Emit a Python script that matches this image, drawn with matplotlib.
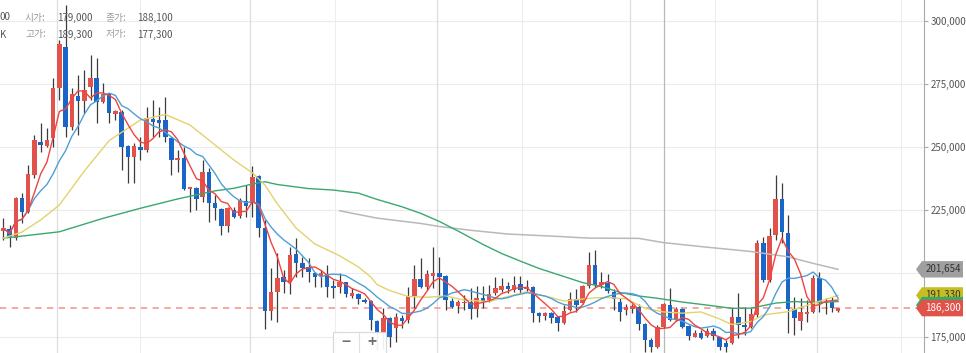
import numpy as np
import pandas as pd
import matplotlib
matplotlib.use("Agg")
import matplotlib.pyplot as plt
from matplotlib.patches import Polygon, Rectangle
from matplotlib import transforms

plt.rcParams['font.family'] = ['Noto Sans CJK KR', 'DejaVu Sans']

# daily candles (won), oldest first
opens = [216900, 217500, 213900, 229700, 224400, 239000, 252100, 250400, 253500, 273300,
         289700, 257800, 270200, 268400, 273900, 277200, 268000, 271000, 263100, 264000,
         250400, 246000, 249900, 248900, 261000, 260700, 260700, 253500, 244800, 245800,
         233300, 233700, 230100, 240300, 227800, 225400, 218900, 225100, 222700, 228800,
         228000, 238600, 217900, 185300, 192800, 198700, 196500, 207700, 204300, 202700,
         200100, 199000, 199800, 195100, 194500, 196500, 191200, 191900, 189500, 189200,
         181300, 176100, 182300, 178300, 182300, 181600, 191100, 197700, 194500, 199000,
         200300, 199000, 189200, 187100, 188200, 188800, 185800, 190200, 189500, 192200,
         193500, 195100, 193500, 195800, 193700, 194500, 184500, 183200, 184500, 182700,
         180300, 185600, 189800, 188200, 195100, 203400, 195400, 196400, 192800, 188800,
         185600, 185800, 186600, 180000, 173700, 170800, 179000, 187500, 181600, 185800,
         179200, 175000, 176300, 175300, 177400, 174800, 172600, 172600, 182700, 179600,
         179000, 183600, 211900, 197400, 215200, 229300, 216100, 185800, 181300, 184000,
         184900, 198100, 188200, 188800, 185200]
highs = [221900, 219200, 230400, 231700, 242900, 254800, 259400, 257400, 277200, 292400,
         306200, 273300, 278500, 280500, 286400, 285100, 275400, 271400, 264700, 264700,
         250800, 251600, 254100, 266000, 268600, 266000, 269900, 254100, 248900, 250200,
         234300, 234300, 244900, 241600, 231100, 225800, 226400, 226400, 229700, 235000,
         242500, 239000, 221200, 202100, 208000, 201400, 210600, 213900, 206600, 206000,
         200700, 201400, 203400, 197400, 200100, 196800, 194100, 192400, 190200, 189500,
         181600, 186200, 182900, 184300, 183600, 194800, 203400, 206300, 201400, 210600,
         206600, 199400, 190200, 189500, 191500, 194100, 195100, 195100, 195400, 198500,
         198100, 196800, 199000, 199000, 197400, 195100, 184900, 184900, 184900, 183200,
         187500, 192800, 193700, 195400, 208600, 209300, 200700, 199800, 193700, 190200,
         187900, 187900, 187900, 180300, 174400, 179600, 188200, 194100, 186900, 186200,
         179600, 177600, 177600, 178300, 178300, 175000, 173700, 186200, 192400, 186900,
         186200, 213200, 214600, 217900, 239000, 235900, 223100, 190600, 190200, 189500,
         199400, 200700, 190200, 190600, 186500]
lows = [213200, 210600, 213200, 219900, 223800, 237700, 248200, 250200, 250200, 268600,
        254100, 256800, 254800, 263500, 268600, 259400, 267400, 259400, 260700, 240900,
        235700, 235700, 244900, 248200, 254100, 254100, 252100, 239000, 240300, 233000,
        224400, 225100, 228400, 220500, 221200, 215200, 216500, 221800, 221800, 222500,
        222500, 214300, 177900, 181600, 180900, 192200, 191900, 198700, 198700, 196800,
        194500, 194800, 190800, 190200, 192200, 190800, 190200, 187900, 188400, 177600,
        169700, 170000, 171000, 173000, 178300, 180300, 186200, 194300, 193500, 194100,
        191500, 185600, 186200, 184300, 185600, 181900, 182700, 186200, 188800, 191500,
        192800, 192200, 192800, 192400, 192800, 180900, 180900, 181600, 180500, 177400,
        180000, 185300, 184900, 187900, 194100, 194800, 194100, 192200, 185600, 181300,
        183600, 184300, 177600, 169100, 169100, 170400, 178300, 181300, 181300, 178300,
        173700, 174800, 174000, 174800, 173700, 169700, 169100, 172100, 174400, 175700,
        178300, 182900, 196800, 196800, 213200, 211900, 176600, 175700, 177600, 180900,
        184300, 184900, 184000, 184900, 184900]
closes = [217900, 213900, 229700, 224400, 239400, 252800, 250800, 252800, 273300, 290800,
          257800, 271000, 268400, 272600, 277200, 268000, 271000, 263400, 264400, 250200,
          246000, 250400, 248900, 261400, 260000, 259700, 254100, 244900, 245800, 233300,
          234100, 229500, 240300, 227800, 225800, 218900, 225800, 222500, 229100, 226700,
          238300, 218100, 185300, 192800, 198100, 196800, 207300, 204300, 202300, 200700,
          198500, 200300, 194500, 194400, 196800, 191900, 192400, 189900, 188800, 181600,
          176300, 182300, 175000, 182700, 181300, 191100, 197700, 194800, 199800, 200300,
          198700, 189500, 186600, 188800, 188800, 185800, 190200, 189200, 191800, 194100,
          195100, 194000, 195400, 193500, 194500, 184300, 183200, 184500, 182300, 180300,
          185300, 189800, 187500, 195100, 203400, 195400, 196800, 193200, 189800, 184900,
          186600, 187100, 180000, 173700, 171000, 179000, 187900, 181600, 185800, 178700,
          175300, 176600, 174400, 177400, 175300, 170800, 170800, 182900, 179600, 179000,
          184000, 211900, 197400, 214800, 229300, 216500, 185800, 182300, 184900, 184900,
          198100, 188200, 188800, 186200, 186300]

# longer averages (candle index, value)
ma20_idx = [0, 3, 6, 9, 13, 17, 22, 26, 30, 34, 37, 40, 42, 44, 47, 50, 54, 57, 59, 60,
            62, 65, 68, 71, 74, 78, 81, 84, 87, 90, 93, 95, 97, 100, 103, 106, 109, 112,
            115, 117, 120, 122, 126, 130, 134]
ma20_val = [214000, 216400, 221200, 227100, 240500, 252600, 260700, 262900, 258700, 250800,
            244900, 239800, 235000, 227500, 218000, 211700, 207000, 202600, 198600, 195600,
            193300, 190900, 190600, 191100, 189500, 188900, 190900, 192700, 191100, 189100,
            189900, 190400, 190500, 190000, 186200, 184800, 184300, 184800, 182000, 179800,
            181000, 183600, 184900, 188200, 191330]
ma60_idx = [0, 3, 9, 16, 22, 28, 34, 37, 40, 42, 44, 49, 53, 57, 60, 64, 67, 70, 73, 77,
            80, 83, 86, 89, 93, 96, 99, 102, 105, 109, 113, 117, 120, 124, 127, 131, 134]
ma60_val = [214000, 214800, 216500, 221800, 225800, 229500, 232700, 233700, 235400, 236300,
            235200, 233600, 233000, 231800, 229300, 226400, 223800, 220600, 216800, 211500,
            207900, 204900, 202000, 199600, 196400, 194900, 192500, 191100, 190200, 188700,
            187500, 186200, 186300, 188300, 188900, 188500, 188900]
ma120_idx = [54, 60, 67, 70, 75, 81, 88, 94, 102, 106, 113, 120, 126, 130, 134]
ma120_val = [224800, 221900, 219800, 218600, 217100, 215600, 214800, 214000, 213900, 212200,
             210400, 208700, 206600, 204000, 201654]

ytick_vals = [175000, 200000, 225000, 250000, 275000, 300000]
vgrid_light = [21.9, 53.2, 83.3, 114.2, 144.1]
vgrid_mid = [8.6, 39.6, 69.6, 100.6, 130.6]
vgrid_dark = [106.05]
last_price = 186300
# right-hand value tags, bottom one drawn last: value, face, text colour, label
tags = [(201654, '#9f9f9f', '#333333', '201,654'),
        (191330, '#c6bd22', '#333333', '191,330'),
        (187500, '#3aa867', '#ffffff', ''),
        (186300, '#e0524a', '#ffffff', '186,300')]

RED = '#e0524a'
BLUE = '#1a66c8'

W, H = 966, 353
fig = plt.figure(figsize=(W / 100, H / 100), dpi=100)
ax = fig.add_axes([0, 0, 924 / W, 1])
ax.set_xlim(-0.53, 147.8)
ax.set_ylim(168550, 308190)

o = np.array(opens)
h = np.array(highs)
l = np.array(lows)
c = np.array(closes)
x = np.arange(len(c))
col = np.where(c >= o, RED, BLUE)

for v in ytick_vals:
    ax.axhline(v, color='#ececec', lw=0.8, zorder=0)
for g in vgrid_light:
    ax.axvline(g, color='#ededed', lw=0.8, zorder=0)
for g in vgrid_mid:
    ax.axvline(g, color='#dedede', lw=0.9, zorder=0)
for g in vgrid_dark:
    ax.axvline(g, color='#b8b8b8', lw=0.9, zorder=0)

ax.axhline(last_price, color='#f3a39b', lw=1.3, ls=(0, (3.5, 3)), zorder=1)

ax.vlines(x, l, h, color='#3c3c3c', lw=0.9, zorder=3)
ax.bar(x, np.maximum(np.abs(c - o), 350), bottom=np.minimum(o, c), width=0.72,
       color=col, lw=0, zorder=4)

ma5 = pd.Series(c).rolling(5, min_periods=1).mean()
ma10 = pd.Series(c).rolling(10, min_periods=1).mean()
ax.plot(ma120_idx, ma120_val, color='#b9b9b9', lw=1.1, zorder=5)
ax.plot(ma60_idx, ma60_val, color='#3aa870', lw=1.0, zorder=5)
ax.plot(ma20_idx, ma20_val, color='#e2d36c', lw=1.0, zorder=5)
ax.plot(x, ma10, color='#4f9fd6', lw=1.0, zorder=6)
ax.plot(x, ma5, color='#ef4540', lw=1.0, zorder=7)

for s in ['top', 'left', 'bottom']:
    ax.spines[s].set_visible(False)
ax.spines['right'].set_color('#a8a8a8')
ax.set_xticks([])
ax.yaxis.tick_right()
ax.set_yticks(ytick_vals)
# the 200,000 label sits under the 201,654 tag
ax.set_yticklabels(["" if v == 200000 else f"{v:,}" for v in ytick_vals])
ax.tick_params(axis='y', length=3, width=0.8, color='#a8a8a8', labelsize=7,
               labelcolor='#555555', pad=1.5)

# value tags on the price scale
blend = transforms.blended_transform_factory(fig.transFigure, ax.transData)
half = (308190 - 168550) / H * 8.2
for val, fc, tc, txt in tags:
    xs = [916 / W, 922 / W, 963 / W, 963 / W, 922 / W]
    ys = [val, val + half, val + half, val - half, val - half]
    ax.add_patch(Polygon(list(zip(xs, ys)), closed=True, transform=blend, fc=fc,
                         ec='none', clip_on=False, zorder=20))
    if txt:
        ax.text(943 / W, val, txt, transform=blend, ha='center', va='center',
                fontsize=7, color=tc, zorder=20, clip_on=False)

# info box, top left (cut off by the frame)
row1 = 1 - 17.5 / H
row2 = 1 - 34.5 / H
fig.text(0, row1, "00", fontsize=7, color='#555555', va='center')
fig.text(0, row2, "K", fontsize=7, color='#555555', va='center')
for xl, xv, yy, lab, val in [(25, 57, row1, "시가:", "179,000"),
                             (106, 137, row1, "종가:", "188,100"),
                             (25, 57, row2, "고가:", "189,300"),
                             (106, 137, row2, "저가:", "177,300")]:
    fig.text(xl / W, yy, lab, fontsize=7, color='#999999', va='center')
    fig.text(xv / W, yy, val, fontsize=7, color='#555555', va='center')

# zoom buttons at the bottom
fig.patches.append(Rectangle((333 / W, -0.05), 53 / W, 21 / H + 0.05,
                             transform=fig.transFigure, fc='white', ec='#d6d6d6',
                             lw=0.8, alpha=0.92, zorder=30))
fig.add_artist(plt.Line2D([359 / W, 359 / W], [0, 20 / H], transform=fig.transFigure,
                          color='#e0e0e0', lw=0.8, zorder=31))
fig.text(346 / W, 1 - 342 / H, "−", fontsize=11, color='#707070', ha='center',
         va='center', fontweight='bold', zorder=32)
fig.text(372 / W, 1 - 342 / H, "+", fontsize=11, color='#707070', ha='center',
         va='center', fontweight='bold', zorder=32)

fig.savefig('out.png', dpi=100)
